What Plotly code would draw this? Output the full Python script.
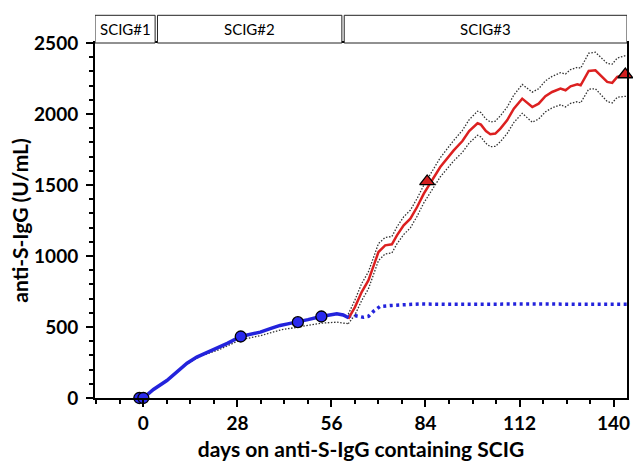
import plotly.graph_objects as go

# ---- data ----
blue_days = [0, 3, 7, 10.9, 13, 15.9, 19, 21.9, 25, 29, 32, 34.8, 38, 40.7, 43, 45.9, 49, 52.9, 55, 57.6, 59.5, 61.1]
blue_vals = [0, 60, 123, 206, 245, 288, 320, 347, 385, 433, 450, 464, 490, 511, 522, 534, 552, 574, 585, 593, 585, 565]

blue_lower_days = [12, 17, 22, 29, 35, 41, 46, 53, 57.6, 61]
blue_lower_vals = [225, 295, 335, 410, 440, 480, 499, 527, 534, 523]

proj_days = [61, 63, 65.5, 67, 68.5, 70.5, 74, 78, 82, 90, 100, 110, 120, 130, 140, 144]
proj_vals = [575, 580, 568, 575, 610, 645, 652, 658, 662, 660, 662, 660, 662, 660, 660, 660]

red_days = [61, 63, 65, 67, 68.6, 70, 72, 74, 75.5, 77.5, 79.5, 81.5, 83.5, 85.5, 88.4, 92.4, 95, 97, 99.5,
            100.5, 102, 103.3, 104.8, 106.3, 108.3, 110.3, 112.8, 115.8, 117.7, 119.7, 121.7, 124.2, 125.7,
            127.2, 129.2, 130.2, 132.6, 134.6, 136.1, 138.1, 139.6, 141.1, 143.8]
red_vals = [558, 640, 746, 828, 934, 1028, 1075, 1082, 1145, 1216, 1263, 1345, 1439, 1515, 1627, 1744, 1810,
            1880, 1935, 1925, 1880, 1857, 1862, 1897, 1956, 2038, 2108, 2049, 2073, 2125, 2155, 2179, 2167,
            2195, 2209, 2202, 2303, 2308, 2273, 2226, 2219, 2261, 2278]
red_upper = [590, 690, 806, 888, 994, 1088, 1130, 1137, 1205, 1276, 1323, 1405, 1499, 1575, 1692, 1814, 1885,
             1960, 2020, 2010, 1965, 1944, 1950, 1987, 2048, 2133, 2208, 2154, 2178, 2233, 2265, 2291, 2282,
             2313, 2329, 2322, 2428, 2435, 2401, 2356, 2351, 2394, 2413]
red_lower = [523, 585, 686, 768, 874, 968, 1015, 1022, 1085, 1151, 1198, 1280, 1374, 1450, 1557, 1670, 1730,
             1795, 1850, 1838, 1793, 1770, 1772, 1805, 1862, 1940, 2005, 1942, 1965, 2015, 2043, 2065, 2050,
             2075, 2087, 2078, 2175, 2178, 2140, 2088, 2078, 2118, 2125]

circle_days = [-1.2, 0, 29, 46, 53]
circle_vals = [0, 0, 433, 534, 574]
tri_days = [84.5, 143.5]
tri_vals = [1525, 2278]

x_ticks = [0, 28, 56, 84, 112, 140]
y_ticks = [0, 500, 1000, 1500, 2000, 2500]

periods = ["SCIG#1", "SCIG#2", "SCIG#3"]
period_bounds = [(-14.4, 3.5), (4.2, 59.1), (59.8, 144)]

BLUE = "#2323dc"
RED = "#dc2020"
FONT = "Lato"

fig = go.Figure()
dot_style = dict(color="#333333", width=1.3, dash="1.5px,1.6px")
fig.add_trace(go.Scatter(x=blue_lower_days, y=blue_lower_vals, mode="lines", line=dot_style, hoverinfo="skip"))
fig.add_trace(go.Scatter(x=red_days, y=red_upper, mode="lines", line=dot_style, hoverinfo="skip"))
fig.add_trace(go.Scatter(x=red_days, y=red_lower, mode="lines", line=dot_style, hoverinfo="skip"))
fig.add_trace(go.Scatter(x=proj_days, y=proj_vals, mode="lines",
                         line=dict(color=BLUE, width=3.5, dash="3px,3.5px")))
fig.add_trace(go.Scatter(x=red_days, y=red_vals, mode="lines", line=dict(color=RED, width=2.5)))
fig.add_trace(go.Scatter(x=blue_days, y=blue_vals, mode="lines", line=dict(color=BLUE, width=3.5)))
fig.add_trace(go.Scatter(x=circle_days, y=circle_vals, mode="markers", cliponaxis=False,
                         marker=dict(symbol="circle", size=11, color="#2a2aee",
                                     line=dict(color="black", width=1.3))))
fig.add_trace(go.Scatter(x=tri_days, y=tri_vals, mode="markers", cliponaxis=False,
                         marker=dict(symbol="triangle-up", size=13, color="#d22020",
                                     line=dict(color="black", width=1.3))))

top = 1 + 27.7 / 355
for name, (a, b) in zip(periods, period_bounds):
    fig.add_shape(type="rect", xref="x", yref="paper", x0=a, x1=b, y0=1, y1=top,
                  line=dict(color="#222222", width=1), fillcolor="white", layer="above")
    fig.add_annotation(x=(a + b) / 2, y=(1 + top) / 2, xref="x", yref="paper", text=name,
                       xanchor="center", yanchor="middle",
                       showarrow=False, font=dict(family=FONT, size=15, color="black"))

axis_font = dict(family=FONT, size=19, color="black", weight="bold")
title_font = dict(family=FONT, size=21, color="black", weight="bold")
fig.update_layout(
    width=633, height=463,
    margin=dict(l=95, r=6, t=43, b=65),
    plot_bgcolor="white", paper_bgcolor="white",
    showlegend=False,
    xaxis=dict(range=[-14.4, 144], tickvals=x_ticks, ticks="outside", ticklen=7, tickwidth=2,
               tickcolor="black", showline=True, linewidth=2, linecolor="black", mirror=True,
               showgrid=False, zeroline=False, tickfont=axis_font, automargin=False,
               minor=dict(dtick=7, tick0=0, ticks="outside", ticklen=4, tickwidth=1.5, tickcolor="black"),
               title=dict(text="days on anti-S-IgG containing SCIG", font=title_font, standoff=10)),
    yaxis=dict(range=[0, 2500], tickvals=y_ticks, ticks="outside", ticklen=7, tickwidth=2,
               tickcolor="black", showline=True, linewidth=2, linecolor="black", mirror=True,
               showgrid=False, zeroline=False, tickfont=axis_font, ticklabelstandoff=4, automargin=False,
               minor=dict(dtick=100, tick0=0, ticks="outside", ticklen=4, tickwidth=1.5, tickcolor="black"),
               title=dict(text="anti-S-IgG (U/mL)", font=title_font, standoff=0)),
)

fig.write_html("out.html", config={"displayModeBar": False},
               post_script="document.body.style.margin='0px';")
